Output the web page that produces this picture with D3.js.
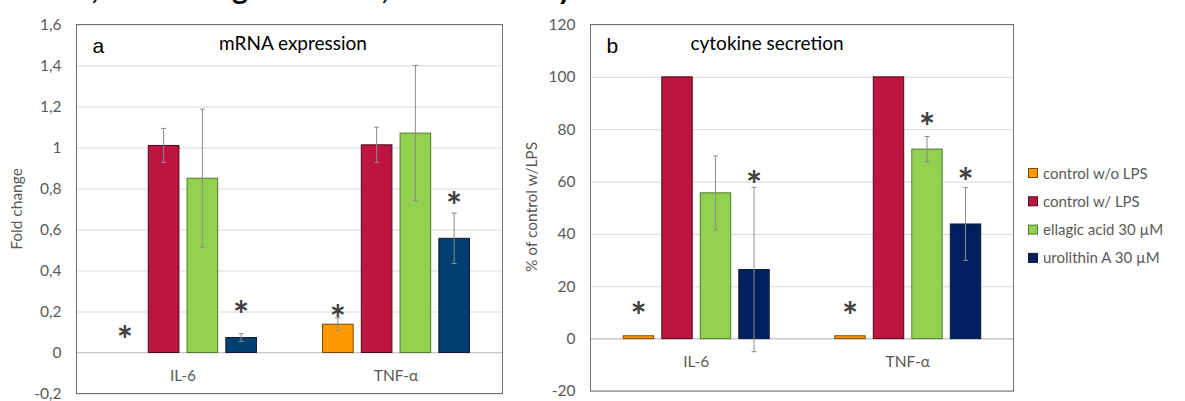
<!DOCTYPE html>
<meta charset="utf-8">
<html>
  <head>
    <title>mRNA and cytokine</title>
    <script src="https://d3js.org/d3.v7.min.js"></script>
    <style>
      body { margin: 0; background: #fff; }
      text { font-family: Lato, "Open Sans", sans-serif; }
    </style>
  </head>
  <body>
    <div id="chart"></div>
    <script>
      /* data */
      var categories = ["IL-6", "TNF-\u03b1"];
      var series = ["control w/o LPS", "control w/ LPS", "ellagic acid 30 \u00b5M", "urolithin A 30 \u00b5M"];

      // panel a: fold change, one row per category, one column per series
      var mrnaValues = [[0, 1.01, 0.85, 0.073], [0.138, 1.013, 1.07, 0.557]];
      var mrnaErrors = [[0, 0.083, 0.337, 0.019], [0.031, 0.086, 0.33, 0.123]];
      var mrnaStars = [[0.099, null, null, 0.221], [0.204, null, null, 0.755]];
      var mrnaTicks = [-0.2, 0, 0.2, 0.4, 0.6, 0.8, 1, 1.2, 1.4, 1.6];

      // panel b: % of control w/LPS
      var secValues = [[1.1, 100, 55.7, 26.4], [1.1, 100, 72.4, 43.8]];
      var secErrors = [[0, 0, 14.1, 31.4], [0, 0, 4.8, 13.9]];
      var secStars = [[11.8, null, null, 61.7], [11.8, null, 83.9, 63]];
      var secTicks = [-20, 0, 20, 40, 60, 80, 100, 120];

      /* styles */
      var fillA = ["#ff9900", "#be1540", "#92d050", "#003f72"],
          fillB = ["#ff9900", "#be1540", "#92d050", "#002060"],
          strokes = ["#7a4a00", "#4a0a1a", "#4f7a2a", "#0d1a30"];
      var grey = "#595959";

      var W = 1185, H = 401;
      var svg = d3.select("#chart").append("svg")
          .attr("width", W).attr("height", H);

      /* figure title, cut off at the top edge as in the source */
      var titleBits = [[",", 95], ["g", 240], [",", 385], ["y", 565]];
      svg.append("g").selectAll("text").data(titleBits).enter().append("text")
          .attr("x", function(d){ return d[1]; })
          .attr("y", -1)
          .attr("text-anchor", "middle")
          .attr("font-weight", "bold")
          .attr("font-size", 30)
          .attr("fill", "#000")
          .text(function(d){ return d[0]; });

      function fmt(d){ return String(d).replace(".", ","); }

      function drawPanel(p) {
        var g = svg.append("g");
        var y = d3.scaleLinear().domain(p.domain).range([p.bottom, p.top]);
        var x = d3.scaleBand().domain(categories).range([p.left, p.right]);
        var groupW = x.bandwidth() * 0.69;
        var x1 = d3.scaleBand().domain(d3.range(series.length))
            .range([0, groupW]).paddingInner(0.21);

        // gridlines
        g.append("g")
          .attr("transform", "translate(" + p.left + ",0)")
          .call(d3.axisLeft(y).tickValues(p.ticks).tickSize(-(p.right - p.left)).tickFormat(""))
          .call(function(s){ s.select(".domain").remove(); })
          .selectAll("line").attr("stroke", "#d9d9d9");

        // tick labels
        g.append("g")
          .attr("transform", "translate(" + p.left + ",0)")
          .call(d3.axisLeft(y).tickValues(p.ticks).tickSize(0).tickPadding(15).tickFormat(p.format))
          .call(function(s){ s.select(".domain").remove(); })
          .selectAll("text")
            .style("font-family", "Lato, sans-serif")
            .attr("font-size", 15.5).attr("fill", grey);

        // zero line
        g.append("line")
          .attr("x1", p.left).attr("x2", p.right)
          .attr("y1", y(0)).attr("y2", y(0))
          .attr("stroke", "#c8c8c8");

        // bars
        var rows = [];
        p.values.forEach(function(row, ci){
          row.forEach(function(v, si){
            rows.push({cat: categories[ci], s: si, v: v, e: p.errors[ci][si], star: p.stars[ci][si]});
          });
        });
        function bx(d){ return x(d.cat) + (x.bandwidth() - groupW) / 2 + x1(d.s); }

        g.append("g").selectAll("rect").data(rows).enter().append("rect")
          .attr("x", function(d){ return bx(d); })
          .attr("y", function(d){ return y(Math.max(0, d.v)); })
          .attr("width", x1.bandwidth())
          .attr("height", function(d){ return Math.abs(y(0) - y(d.v)); })
          .attr("fill", function(d){ return p.fills[d.s]; })
          .attr("stroke", function(d){ return strokes[d.s]; })
          .attr("stroke-width", 1);

        // error bars
        var eb = g.append("g").selectAll("g").data(rows.filter(function(d){ return d.e > 0; }))
          .enter().append("g")
          .attr("stroke", "#8c8c8c").attr("stroke-width", 1);
        eb.append("line")
          .attr("x1", function(d){ return bx(d) + x1.bandwidth() / 2; })
          .attr("x2", function(d){ return bx(d) + x1.bandwidth() / 2; })
          .attr("y1", function(d){ return y(d.v + d.e); })
          .attr("y2", function(d){ return y(d.v - d.e); });
        [1, -1].forEach(function(sign){
          eb.append("line")
            .attr("x1", function(d){ return bx(d) + x1.bandwidth() / 2 - 2.5; })
            .attr("x2", function(d){ return bx(d) + x1.bandwidth() / 2 + 2.5; })
            .attr("y1", function(d){ return y(d.v + sign * d.e); })
            .attr("y2", function(d){ return y(d.v + sign * d.e); });
        });

        // asterisks
        g.append("g").selectAll("text").data(rows.filter(function(d){ return d.star !== null; }))
          .enter().append("text")
          .attr("x", function(d){ return bx(d) + x1.bandwidth() / 2; })
          .attr("y", function(d){ return y(d.star) + 22; })
          .attr("text-anchor", "middle")
          .attr("font-size", 38).attr("font-weight", "bold")
          .attr("fill", "#404040")
          .text("*");

        // category labels
        g.append("g")
          .attr("transform", "translate(0," + y(0) + ")")
          .call(d3.axisBottom(x).tickSize(0).tickPadding(p.catPad))
          .call(function(s){ s.select(".domain").remove(); })
          .selectAll("text")
            .style("font-family", "Lato, sans-serif")
            .attr("font-size", 15.5).attr("fill", grey);

        // frame
        g.append("rect")
          .attr("x", p.left).attr("y", p.top)
          .attr("width", p.right - p.left).attr("height", p.bottom - p.top)
          .attr("fill", "none").attr("stroke", "#707070");

        // y title
        g.append("text")
          .attr("transform", "translate(" + p.titleX + "," + p.titleY + ") rotate(-90)")
          .attr("text-anchor", "middle")
          .attr("font-size", p.titleSize).attr("fill", grey)
          .text(p.yTitle);

        // panel letter and heading
        g.append("text")
          .attr("x", p.left + 16).attr("y", p.top + 28)
          .style("font-family", "'Liberation Sans', Arial, sans-serif")
          .attr("font-size", 21).attr("fill", "#000")
          .text(p.letter);
        g.append("text")
          .attr("x", p.headX).attr("y", p.top + 25)
          .attr("text-anchor", "middle")
          .attr("font-size", 19).attr("fill", "#000")
          .text(p.heading);
      }

      drawPanel({
        left: 76.5, right: 502.5, top: 24.5, bottom: 393.5,
        domain: [-0.2, 1.6], ticks: mrnaTicks, format: fmt,
        values: mrnaValues, errors: mrnaErrors, stars: mrnaStars, fills: fillA,
        catPad: 17, yTitle: "Fold change", titleX: 22, titleY: 209, titleSize: 15.5,
        letter: "a", heading: "mRNA expression", headX: 293
      });

      drawPanel({
        left: 590.5, right: 1013.5, top: 24.5, bottom: 391,
        domain: [-20, 120], ticks: secTicks, format: fmt,
        values: secValues, errors: secErrors, stars: secStars, fills: fillB,
        catPad: 17, yTitle: "% of control w/LPS", titleX: 537, titleY: 207, titleSize: 15.5,
        letter: "b", heading: "cytokine secretion", headX: 767
      });

      /* legend */
      var legend = svg.append("g").selectAll("g").data(series).enter().append("g")
          .attr("transform", function(d, i){ return "translate(1028," + (173 + i * 28.3) + ")"; });
      legend.append("rect")
          .attr("x", 0.5).attr("y", -4.5).attr("width", 9).attr("height", 9)
          .attr("fill", function(d, i){ return fillB[i]; })
          .attr("stroke", function(d, i){ return strokes[i]; });
      legend.append("text")
          .attr("x", 15).attr("y", 5.5)
          .attr("font-size", 15).attr("fill", grey)
          .text(function(d){ return d; });
    </script>
  </body>
</html>
